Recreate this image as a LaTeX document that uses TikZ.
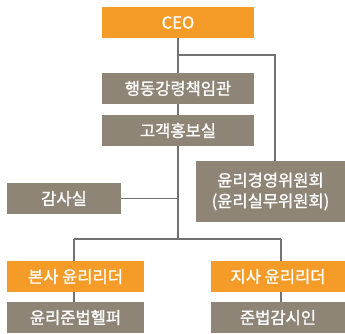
\documentclass[tikz,border=0pt]{standalone}
\usepackage{fontspec}
\setmainfont{Noto Sans CJK KR}
\newfontfamily\boxfont[FakeBold=1.2]{Noto Sans CJK KR}
\definecolor{orgc}{HTML}{F59B27}
\definecolor{grayc}{HTML}{8F8577}
\definecolor{linec}{HTML}{727272}
\begin{document}
\begin{tikzpicture}[x=0.75pt,y=-0.75pt,
  box/.style={draw=none,text=white,inner sep=0pt,align=center,font=\boxfont\fontsize{12.4pt}{15.5pt}\selectfont},
  obox/.style={box,fill=orgc},
  gbox/.style={box,fill=grayc},
  conn/.style={draw=linec,line width=0.85pt}]
\useasboundingbox (0,0) rectangle (345,333);
\node[obox,minimum width=114pt,minimum height=23.25pt] (ceo) at (178,22.5) {CEO};
\node[gbox,minimum width=114pt,minimum height=23.25pt] (hd) at (178,88.5) {행동강령책임관};
\node[gbox,minimum width=114pt,minimum height=23.25pt] (gk) at (178,130.5) {고객홍보실};
\node[gbox,minimum width=111.75pt,minimum height=45.75pt] (eth) at (270.5,191.5) {윤리경영위원회\\(윤리실무위원회)};
\node[gbox,minimum width=85.5pt,minimum height=23.25pt] (gs) at (64,198.5) {감사실};
\node[obox,minimum width=102.75pt,minimum height=23.25pt] (bs) at (75.5,276.5) {본사 윤리리더};
\node[obox,minimum width=100.5pt,minimum height=23.25pt] (js) at (278,276.5) {지사 윤리리더};
\node[gbox,minimum width=102.75pt,minimum height=23.25pt] (hp) at (75.5,317.5) {윤리준법헬퍼};
\node[gbox,minimum width=100.5pt,minimum height=23.25pt] (jb) at (278,317.5) {준법감시인};
\coordinate (j1) at (178,55);
\coordinate (j2) at (275,55);
\coordinate (j3) at (178,198.5);
\coordinate (j4) at (178,239);
\coordinate (l1) at (74,239);
\coordinate (r1) at (281,239);
\draw[conn] (ceo.south) -- (hd.north);
\draw[conn] (j1) -- (j2) -- (j2 |- eth.north);
\draw[conn] (hd.south) -- (gk.north);
\draw[conn] (gk.south) -- (j4);
\draw[conn] (gs.east) -- (j3);
\draw[conn] (l1) -- (r1);
\draw[conn] (l1) -- (l1 |- bs.north);
\draw[conn] (r1) -- (r1 |- js.north);
\draw[conn] (l1 |- bs.south) -- (l1 |- hp.north);
\draw[conn] (r1 |- js.south) -- (r1 |- jb.north);
\end{tikzpicture}
\end{document}
